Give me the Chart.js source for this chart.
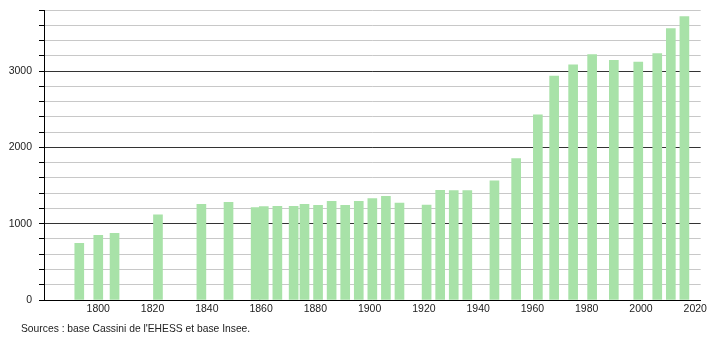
<!DOCTYPE html>
<html>
<head>
<meta charset="utf-8">
<script src="https://cdn.jsdelivr.net/npm/chart.js@4"></script>
<style>
  html, body { margin: 0; padding: 0; background: #fff; }
  #wrap { position: relative; width: 710px; height: 340px; }
  #chart { display: block; }
  #source { position: absolute; left: 21px; top: 323px; font: 10.3px "Liberation Sans", Arial, sans-serif; color: #222; }
</style>
</head>
<body>
<div id="wrap">
  <canvas id="chart" width="710" height="340"></canvas>
  <div id="source">Sources : base Cassini de l'EHESS et base Insee.</div>
</div>
<script>
const years = [1793, 1800, 1806, 1822, 1838, 1848, 1858, 1861, 1866, 1872, 1876, 1881, 1886, 1891, 1896, 1901, 1906, 1911, 1921, 1926, 1931, 1936, 1946, 1954, 1962, 1968, 1975, 1982, 1990, 1999, 2006, 2011, 2016];
const population = [743, 848, 875, 1115, 1253, 1280, 1212, 1223, 1227, 1226, 1253, 1240, 1293, 1240, 1293, 1328, 1359, 1270, 1244, 1438, 1435, 1434, 1560, 1853, 2428, 2934, 3083, 3215, 3140, 3118, 3228, 3557, 3715];
const xTickLabels = [1800, 1820, 1840, 1860, 1880, 1900, 1920, 1940, 1960, 1980, 2000, 2020];
const yTickLabels = [0, 1000, 2000, 3000];

const Y_MAX = 3800;
const GRID_STEP = 200;

const labelFont = { family: "'Liberation Sans', Arial, sans-serif", size: 10.5 };

new Chart(document.getElementById("chart"), {
    type: 'bar',
    data: {
        datasets: [{
            data: years.map((yr, i) => ({ x: yr, y: population[i] })),
            backgroundColor: 'rgb(168, 226, 168)',
            barThickness: 9
        }]
    },
    options: {
        responsive: false,
        animation: false,
        layout: { padding: { top: 10, right: 9, left: 0, bottom: 0 } },
        plugins: { legend: { display: false }, tooltip: { enabled: false } },
        scales: {
            x: {
                type: 'linear',
                offset: false,
                min: 1780,
                max: 2022,
                afterBuildTicks: scale => { scale.ticks = xTickLabels.map(v => ({ value: v })); },
                afterFit: scale => { scale.height = 40; },
                grid: { display: false, drawTicks: false },
                border: { color: '#000', width: 1 },
                ticks: { color: '#222', font: labelFont, padding: 3, maxRotation: 0, autoSkip: false, callback: v => String(v) }
            },
            y: {
                min: 0,
                max: Y_MAX,
                afterBuildTicks: scale => {
                    const t = [];
                    for (let v = 0; v <= Y_MAX; v += GRID_STEP) t.push({ value: v });
                    scale.ticks = t;
                },
                afterFit: scale => {
                    scale.width = 44;
                    scale.paddingTop = 0;
                    scale.paddingBottom = 0;
                },
                grid: {
                    color: ctx => yTickLabels.includes(ctx.tick.value) ? '#333' : '#c8c8c8',
                    tickColor: '#000',
                    tickLength: 5
                },
                border: { color: '#000', width: 1 },
                ticks: {
                    color: '#222',
                    font: labelFont,
                    padding: 7,
                    autoSkip: false,
                    callback: v => yTickLabels.includes(v) ? String(v) : ''
                }
            }
        }
    }
});
</script>
</body>
</html>
